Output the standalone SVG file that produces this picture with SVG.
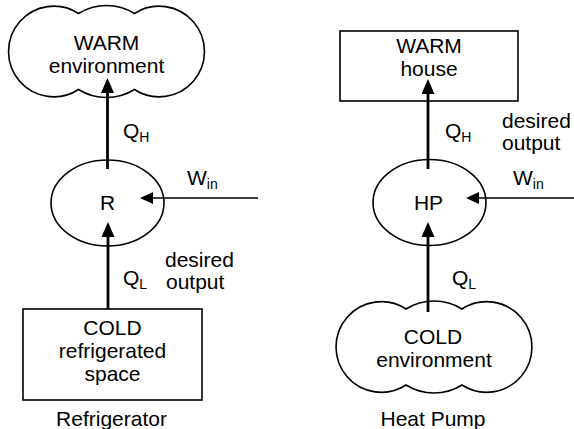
<svg xmlns="http://www.w3.org/2000/svg" width="574" height="429" viewBox="0 0 574 429">
<defs>
<style>
.sh{fill:#fff;stroke:#000;stroke-width:1.6}
.t{font-family:"Liberation Sans",Arial,sans-serif;font-size:21px;fill:#000}
.c{text-anchor:middle}
.s{font-size:14px}
.thick{stroke:#000;stroke-width:2.8;fill:none}
.thin{stroke:#000;stroke-width:1.6;fill:none}
</style>
<path id="cloud" d="M -28,-38 A 53 53 0 0 1 28,-38 A 45.3 45.3 0 1 1 28,38 A 53 53 0 0 1 -28,38 A 45.3 45.3 0 1 1 -28,-38 Z"/>
<marker id="ahT" viewBox="0 0 15 13" markerWidth="15" markerHeight="13" refX="1" refY="6.5" markerUnits="userSpaceOnUse" orient="auto">
<path d="M0,0 L15,6.5 L0,13 Z" fill="#000"/>
</marker>
<marker id="ahS" viewBox="0 0 13 12" markerWidth="13" markerHeight="12" refX="1" refY="6" markerUnits="userSpaceOnUse" orient="auto">
<path d="M0,0 L13,6 L0,12 Z" fill="#000"/>
</marker>
</defs>
<rect width="574" height="429" fill="#fff"/>

<g id="warm-env">
<use href="#cloud" class="sh" transform="translate(106.5,51.5)"/>
<text class="t c" x="106.5" y="50">WARM</text>
<text class="t c" x="106.5" y="73">environment</text>
</g>

<g id="refrigerator">
<ellipse class="sh" cx="107.5" cy="203" rx="56.5" ry="43"/>
<text class="t c" x="107.5" y="210">R</text>
</g>

<g id="cold-space">
<rect class="sh" x="23" y="309" width="179" height="91"/>
<text class="t c" x="112.5" y="335">COLD</text>
<text class="t c" x="112.5" y="358">refrigerated</text>
<text class="t c" x="112.5" y="381">space</text>
</g>

<g id="warm-house">
<rect class="sh" x="340" y="31" width="178" height="70"/>
<text class="t c" x="429" y="53">WARM</text>
<text class="t c" x="429" y="76">house</text>
</g>

<g id="heat-pump">
<ellipse class="sh" cx="429.5" cy="202.5" rx="56.5" ry="43"/>
<text class="t c" x="428.5" y="210">HP</text>
</g>

<g id="cold-env">
<use href="#cloud" class="sh" transform="translate(434,347)"/>
<text class="t c" x="433" y="344">COLD</text>
<text class="t c" x="434" y="367">environment</text>
</g>

<g id="connectors">
<line class="thick" x1="107.5" y1="169" x2="107.5" y2="92" marker-end="url(#ahT)"/>
<line class="thick" x1="108" y1="309" x2="108" y2="236" marker-end="url(#ahT)"/>
<line class="thin" x1="258" y1="198" x2="152" y2="198" marker-end="url(#ahS)"/>
<line class="thick" x1="428" y1="169" x2="428" y2="93" marker-end="url(#ahT)"/>
<line class="thick" x1="428" y1="312" x2="428" y2="236" marker-end="url(#ahT)"/>
<line class="thin" x1="574" y1="198" x2="478" y2="198" marker-end="url(#ahS)"/>
</g>

<g id="labels">
<text class="t" x="123" y="138">Q<tspan class="s" dy="4">H</tspan></text>
<text class="t" x="187" y="185">W<tspan class="s" dy="4">in</tspan></text>
<text class="t" x="123" y="285">Q<tspan class="s" dy="4">L</tspan></text>
<text class="t" x="165" y="267">desired</text>
<text class="t" x="166" y="289">output</text>
<text class="t c" x="111.5" y="426">Refrigerator</text>

<text class="t" x="445" y="138">Q<tspan class="s" dy="4">H</tspan></text>
<text class="t" x="502" y="128">desired</text>
<text class="t" x="502" y="150">output</text>
<text class="t" x="513" y="185">W<tspan class="s" dy="4">in</tspan></text>
<text class="t" x="452" y="285">Q<tspan class="s" dy="4">L</tspan></text>
<text class="t c" x="433" y="426">Heat Pump</text>
</g>
</svg>
